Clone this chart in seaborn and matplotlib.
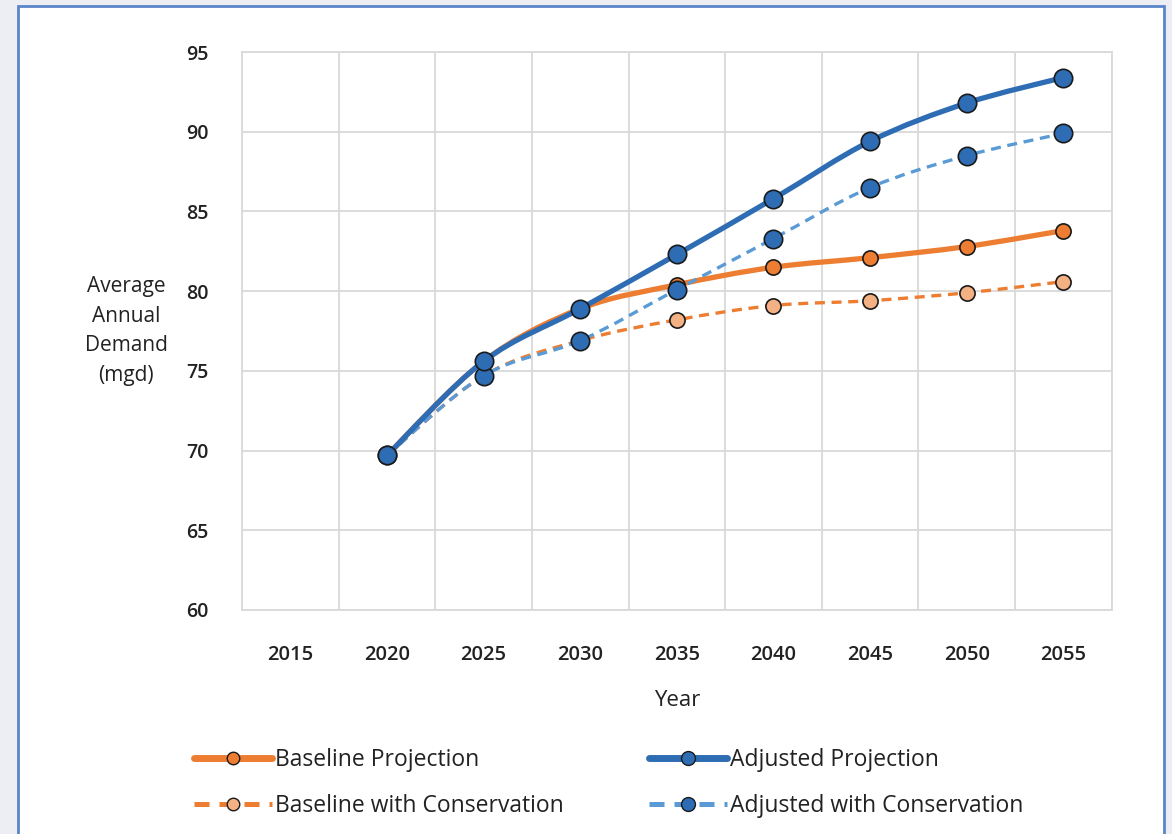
import numpy as np
import pandas as pd
import matplotlib
matplotlib.use("Agg")
import matplotlib.pyplot as plt
from matplotlib.path import Path
from matplotlib.patches import PathPatch, Rectangle
from matplotlib.lines import Line2D
import seaborn as sns

# data
anios = [2020, 2025, 2030, 2035, 2040, 2045, 2050, 2055]
anios_eje = [2015, 2020, 2025, 2030, 2035, 2040, 2045, 2050, 2055]
baseline_projection = [69.7, 75.6, 78.9, 80.4, 81.5, 82.1, 82.8, 83.8]
adjusted_projection = [69.7, 75.6, 78.9, 82.3, 85.8, 89.4, 91.8, 93.4]
baseline_conservation = [69.7, 74.7, 76.9, 78.2, 79.1, 79.4, 79.9, 80.6]
adjusted_conservation = [69.7, 74.7, 76.9, 80.1, 83.3, 86.5, 88.5, 89.9]
nombres = ["Baseline Projection", "Adjusted Projection",
           "Baseline with Conservation", "Adjusted with Conservation"]

NARANJA = "#ED7D31"
AZUL = "#2E6DB4"
AZUL_CLARO = "#5B9BD5"
NARANJA_CLARO = "#F4B183"
TEXTO = "#222222"

estilos = {
    "Baseline with Conservation": dict(line=NARANJA, lw=2.4, ls=(0, (3, 2)), fill=NARANJA_CLARO, s=120),
    "Baseline Projection": dict(line=NARANJA, lw=3.8, ls="-", fill=NARANJA, s=120),
    "Adjusted with Conservation": dict(line=AZUL_CLARO, lw=2.4, ls=(0, (3, 2)), fill=AZUL, s=175),
    "Adjusted Projection": dict(line=AZUL, lw=3.8, ls="-", fill=AZUL, s=175),
}

df = pd.DataFrame({
    "anio": anios * 4,
    "valor": baseline_projection + adjusted_projection + baseline_conservation + adjusted_conservation,
    "serie": sum([[n] * len(anios) for n in nombres], []),
})


def curva_suave(x, y):
    # bezier segments through the points (excel-like smoothed line)
    p = np.column_stack([x, y]).astype(float)
    ext = np.vstack([p[0], p, p[-1]])
    verts = [p[0]]
    codes = [Path.MOVETO]
    for i in range(len(p) - 1):
        p0, p1, p2, p3 = ext[i], ext[i + 1], ext[i + 2], ext[i + 3]
        c1 = p1 + (p2 - p0) / 6
        c2 = p2 - (p3 - p1) / 6
        verts += [c1, c2, p2]
        codes += [Path.CURVE4] * 3
    return Path(verts, codes)


sns.set_style("white")
plt.rcParams["font.family"] = ["Open Sans", "DejaVu Sans"]

fig = plt.figure(figsize=(11.72, 8.34), dpi=100, facecolor="#ECEEF3")
fig.patches.append(Rectangle((0.0155, -0.02), 0.978, 1.013, transform=fig.transFigure,
                             facecolor="white", edgecolor="#5B85C9", linewidth=2, zorder=-1))
ax = fig.add_axes([0.2065, 0.2686, 0.742, 0.669])
ax.set_facecolor("white")

for z, nombre in enumerate(["Baseline with Conservation", "Baseline Projection",
                            "Adjusted with Conservation", "Adjusted Projection"]):
    est = estilos[nombre]
    sub = df[df["serie"] == nombre]
    ax.add_patch(PathPatch(curva_suave(sub["anio"], sub["valor"]), facecolor="none",
                           edgecolor=est["line"], linewidth=est["lw"], linestyle=est["ls"],
                           zorder=3 + z * 2, capstyle="butt"))
    sns.scatterplot(data=sub, x="anio", y="valor", color=est["fill"], s=est["s"],
                    edgecolor="#1a1a1a", linewidth=1.2, ax=ax, zorder=4 + z * 2, legend=False)

ax.set_xlim(2012.5, 2057.5)
ax.set_ylim(60, 95)
ax.set_yticks(np.arange(60, 96, 5))
ax.set_xticks(anios_eje)
ax.set_xticks(np.arange(2012.5, 2058, 5), minor=True)
ax.grid(False)
ax.grid(which="minor", axis="x", color="#D9D9D9", linewidth=1.3)
ax.grid(which="major", axis="y", color="#D9D9D9", linewidth=1.3)
ax.tick_params(which="both", length=0)
ax.tick_params(axis="x", pad=25, labelsize=14.5, labelcolor=TEXTO)
ax.tick_params(axis="y", pad=24, labelsize=14, labelcolor=TEXTO)
for lab in ax.get_xticklabels() + ax.get_yticklabels():
    lab.set_fontweight("semibold")
for s in ax.spines.values():
    s.set_color("#D9D9D9")
    s.set_linewidth(1.3)

ax.set_xlabel("Year", fontsize=16, color=TEXTO, labelpad=18)
ax.set_ylabel("")
fig.text(126 / 1172, 1 - 331 / 834, "Average\nAnnual\nDemand\n(mgd)", ha="center", va="center",
         fontsize=15, color=TEXTO, linespacing=1.55)

# legend filled column by column: baseline pair first, adjusted pair second
orden = ["Baseline Projection", "Baseline with Conservation",
         "Adjusted Projection", "Adjusted with Conservation"]
handles = []
for nombre in orden:
    est = estilos[nombre]
    handles.append(Line2D([], [], color=est["line"], lw=est["lw"] + 1.2, ls=est["ls"], marker="o",
                          markersize=10 if "Adjusted" in nombre else 9,
                          markerfacecolor=est["fill"], markeredgecolor="#1a1a1a"))
fig.legend(handles, orden, ncol=2, loc="upper left", bbox_to_anchor=(0.148, 0.128),
           frameon=False, fontsize=16.5, handlelength=3.4, handletextpad=0.15,
           columnspacing=3.7, labelspacing=0.95, labelcolor=TEXTO)

plt.savefig("out.png", dpi=100, facecolor=fig.get_facecolor())
plt.close(fig)
